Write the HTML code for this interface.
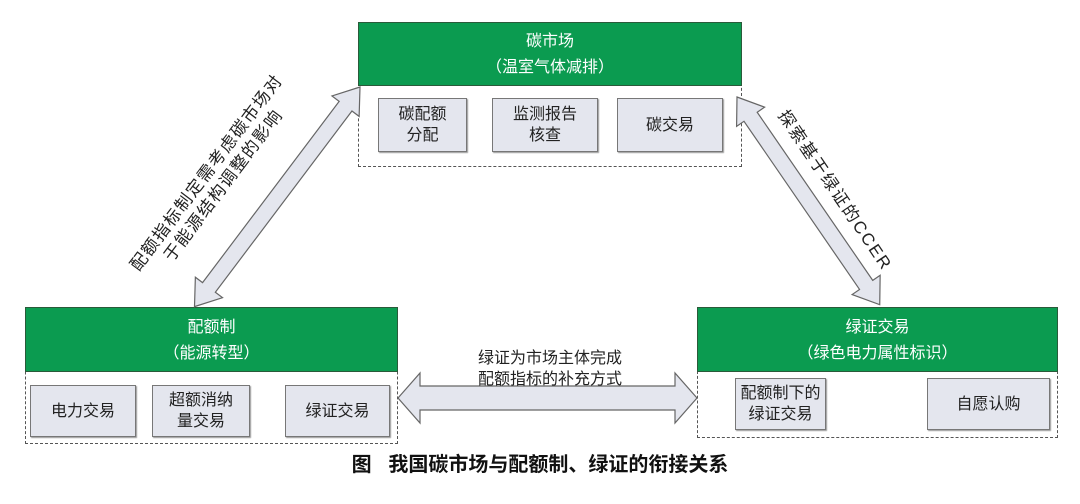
<!DOCTYPE html>
<html><head><meta charset="utf-8"><style>
body{margin:0;width:1080px;height:504px;background:#fff;overflow:hidden;position:relative;font-family:"Liberation Sans","Noto Sans CJK SC",sans-serif}
.g{position:absolute;background:#0b9b50;color:#fff;text-align:center;font-size:16px;line-height:26px;border:1px solid #2a5a3a;box-sizing:border-box}
.d{position:absolute;border:1.5px dashed #555;box-sizing:border-box}
.s{position:absolute;background:#e4e6ee;border:1.5px solid #777;box-shadow:1px 1px 1px #999;box-sizing:border-box;display:flex;align-items:center;justify-content:center;text-align:center;font-size:16px;line-height:21px;color:#222}
.t{position:absolute;font-size:16px;line-height:21px;color:#222;white-space:nowrap;text-align:center}
</style></head><body>
<div class="d" style="left:358px;top:22px;width:384px;height:145px"></div>
<div class="g" style="left:358px;top:22px;width:384px;height:64px;padding-top:6px">碳市场<br>（温室气体减排）</div>
<div class="s" style="left:378px;top:98px;width:89px;height:54px">碳配额<br>分配</div>
<div class="s" style="left:492px;top:98px;width:106px;height:54px">监测报告<br>核查</div>
<div class="s" style="left:617px;top:98px;width:106px;height:54px">碳交易</div>

<div class="d" style="left:25px;top:307px;width:373px;height:137px"></div>
<div class="g" style="left:25px;top:307px;width:373px;height:65px;padding-top:7px">配额制<br>（能源转型）</div>
<div class="s" style="left:30px;top:385px;width:106px;height:52px">电力交易</div>
<div class="s" style="left:152px;top:385px;width:98px;height:52px">超额消纳<br>量交易</div>
<div class="s" style="left:285px;top:385px;width:105px;height:52px">绿证交易</div>

<div class="d" style="left:697px;top:307px;width:361px;height:131px"></div>
<div class="g" style="left:697px;top:307px;width:361px;height:65px;padding-top:7px">绿证交易<br>（绿色电力属性标识）</div>
<div class="s" style="left:735px;top:378px;width:91px;height:52px">配额制下的<br>绿证交易</div>
<div class="s" style="left:927px;top:378px;width:123px;height:52px">自愿认购</div>

<svg width="1080" height="504" style="position:absolute;left:0;top:0">
<g fill="#e4e6ee" stroke="#666" stroke-width="1.2">
<polygon points="398,398 420,373 420,386 675,386 675,373 697,398 675,423 675,410 420,410 420,423"/>
<g transform="translate(360,87) rotate(127)"><polygon points="0,0 24,-17 24,-8 251,-8 251,-17 275,0 251,17 251,8 24,8 24,17"/></g>
<g transform="translate(737,97) rotate(55.5)"><polygon points="0,0 24,-17 24,-8 228,-8 228,-17 252,0 228,17 228,8 24,8 24,17"/></g>
</g>
</svg>
<div class="t" style="left:460px;top:348px;width:180px">绿证为市场主体完成<br>配额指标的补充方式</div>
<div class="t" style="left:75px;top:158px;width:280px;font-size:17px;letter-spacing:1.5px;transform:rotate(-53deg)">配额指标制定需考虑碳市场对<br>于能源结构调整的影响</div>
<div class="t" style="left:730px;top:180px;width:210px;font-size:17px;letter-spacing:2px;transform:rotate(56deg)">探索基于绿证的CCER</div>
<div class="t" style="left:0;top:452px;width:1080px;font-size:20px;line-height:26px;font-weight:bold;color:#111">图&nbsp;&nbsp;&nbsp;我国碳市场与配额制、绿证的衔接关系</div>
</body></html>
